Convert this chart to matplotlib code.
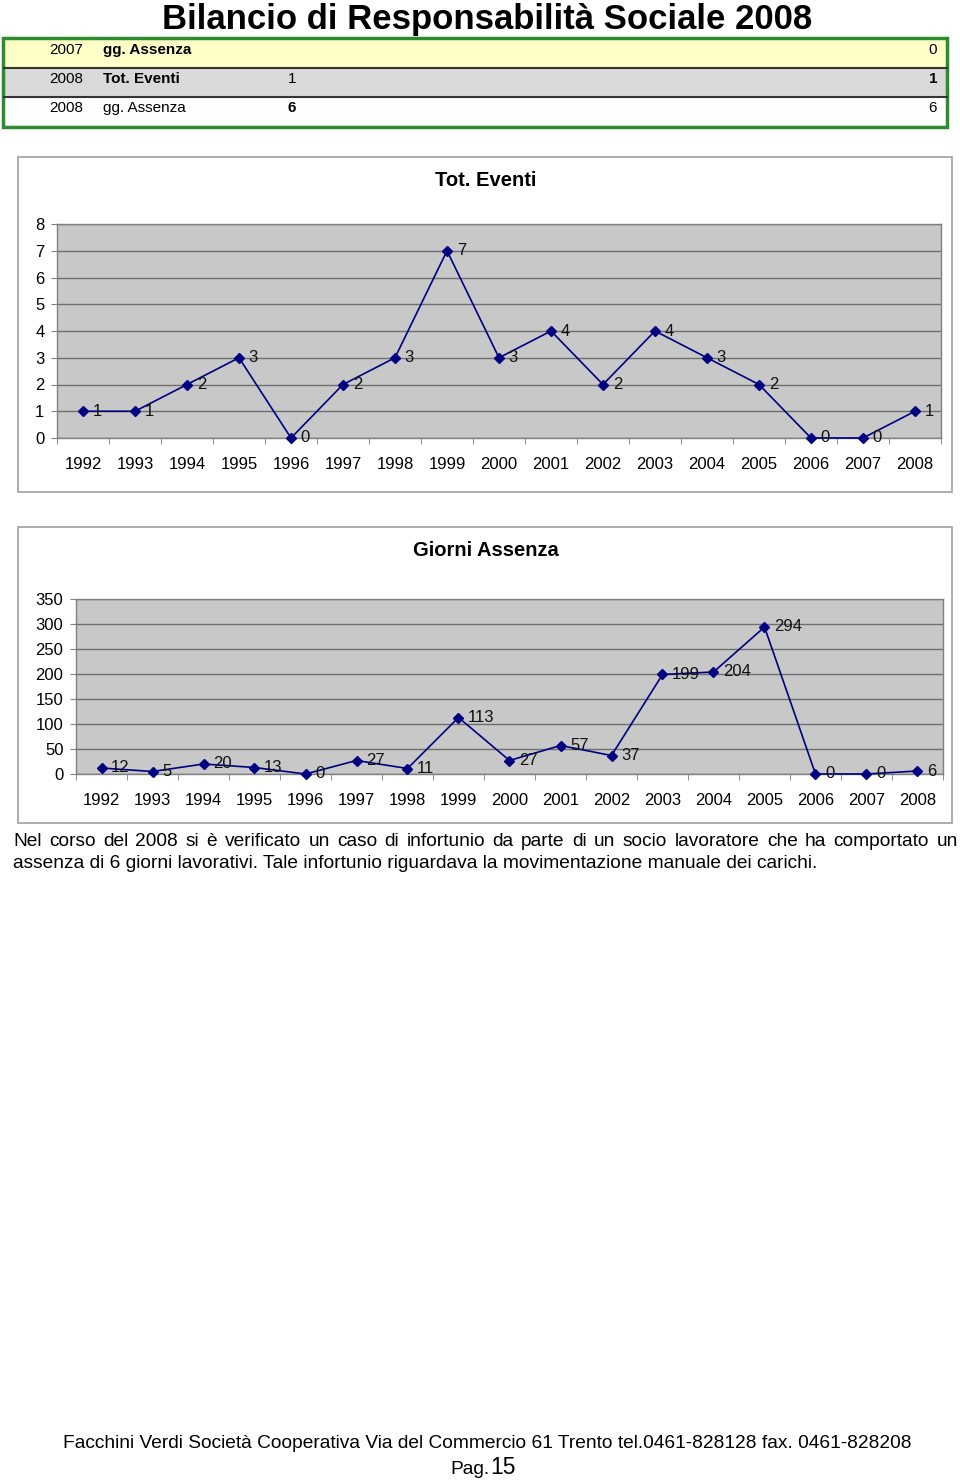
import matplotlib.pyplot as plt
from matplotlib.patches import Rectangle

plt.rcParams['font.family'] = ['Liberation Sans', 'DejaVu Sans']

# dati
anni = [str(a) for a in range(1992, 2009)]
tot_eventi = [1, 1, 2, 3, 0, 2, 3, 7, 3, 4, 2, 4, 3, 2, 0, 0, 1]
giorni_assenza = [12, 5, 20, 13, 0, 27, 11, 113, 27, 57, 37, 199, 204, 294, 0, 0, 6]

tab_anni = ['2007', '2008', '2008']
tab_voci = ['gg. Assenza', 'Tot. Eventi', 'gg. Assenza']
tab_voci_bold = [True, True, False]
tab_mezzo = ['', '1', '6']
tab_mezzo_bold = [False, False, True]
tab_fine = ['0', '1', '6']
tab_fine_bold = [False, True, False]
tab_colori = ['#FFFFC8', '#D9D9D9', '#FFFFFF']

riga1 = ('Nel corso del 2008 si è verificato un caso di infortunio da parte di un socio '
         'lavoratore che ha comportato un')
riga2 = ('assenza di 6 giorni lavorativi. Tale infortunio riguardava la movimentazione '
         'manuale dei carichi.')

W, H = 960, 1480
fig = plt.figure(figsize=(W / 100, H / 100), dpi=100)


def fx(px):
    return px / W


def fy(py):
    return 1 - py / H


def box(x0, y0, x1, y1, **kw):
    r = Rectangle((fx(x0), fy(y1)), fx(x1) - fx(x0), fy(y0) - fy(y1),
                  transform=fig.transFigure, zorder=-1, **kw)
    fig.patches.append(r)


# titolo pagina
fig.text(fx(487), fy(20), 'Bilancio di Responsabilità Sociale 2008',
         ha='center', va='center', fontsize=25, fontweight='bold')

# tabella in alto
row_top = [39, 68, 97]
row_h = 29
for i in range(3):
    y0 = row_top[i]
    box(4, y0, 947, y0 + row_h, facecolor=tab_colori[i], edgecolor='none')
    yc = y0 + 11
    fig.text(fx(83), fy(yc), tab_anni[i], ha='right', va='center', fontsize=11)
    fig.text(fx(103), fy(yc), tab_voci[i], ha='left', va='center', fontsize=11,
             fontweight='bold' if tab_voci_bold[i] else 'normal')
    fig.text(fx(296), fy(yc), tab_mezzo[i], ha='right', va='center', fontsize=11,
             fontweight='bold' if tab_mezzo_bold[i] else 'normal')
    fig.text(fx(937), fy(yc), tab_fine[i], ha='right', va='center', fontsize=11,
             fontweight='bold' if tab_fine_bold[i] else 'normal')
for yl in [68, 97]:
    fig.add_artist(plt.Line2D([fx(4), fx(947)], [fy(yl), fy(yl)],
                              transform=fig.transFigure, color='#333333', lw=1.5))
fig.add_artist(Rectangle((fx(3), fy(127)), fx(947) - fx(3), fy(38) - fy(127),
                         transform=fig.transFigure, facecolor='none',
                         edgecolor='#2E8B2E', lw=2.5))


def grafico(frame, area, titolo, valori, ymax, ystep):
    fx0, fy0, fx1, fy1 = frame
    box(fx0, fy0, fx1, fy1, facecolor='white', edgecolor='#A0A0A0', lw=1.2)
    fig.text(fx((fx0 + fx1) / 2 + 1), fy(fy0 + 24), titolo, ha='center', va='center',
             fontsize=14.5, fontweight='bold')
    x0, y0, x1, y1 = area
    ax = fig.add_axes([fx(x0), fy(y1), fx(x1) - fx(x0), fy(y0) - fy(y1)])
    ax.set_facecolor('#C8C8C8')
    pos = list(range(len(anni)))
    for t in range(0, ymax + 1, ystep):
        ax.axhline(t, color='#6E6E6E', lw=1, zorder=1)
    ax.plot(pos, valori, color='#000080', lw=1.2, marker='D', markersize=4.8,
            markerfacecolor='#000080', markeredgecolor='#000080', zorder=3,
            clip_on=False)
    for p, v in zip(pos, valori):
        ax.annotate(str(v), (p, v), xytext=(7, 0), textcoords='offset points',
                    ha='left', va='center', fontsize=12, color='#111111', zorder=4)
    ax.set_xlim(-0.5, len(anni) - 0.5)
    ax.set_ylim(0, ymax)
    ax.set_yticks(range(0, ymax + 1, ystep))
    ax.set_xticks(pos)
    ax.set_xticklabels(anni)
    ax.set_xticks([p - 0.5 for p in pos] + [len(anni) - 0.5], minor=True)
    ax.tick_params(axis='x', which='major', length=0, pad=14, labelsize=12)
    ax.tick_params(axis='x', which='minor', length=4, color='#808080', direction='out')
    ax.tick_params(axis='y', length=4, color='#808080', pad=5, labelsize=12)
    for s in ax.spines.values():
        s.set_color('#808080')
        s.set_linewidth(1)
    return ax


grafico((18, 157, 952, 492), (57, 224, 941, 438), 'Tot. Eventi', tot_eventi, 8, 1)
grafico((18, 527, 952, 823), (76, 599, 943, 774), 'Giorni Assenza', giorni_assenza, 350, 50)

# testo: prima riga giustificata
renderer = fig.canvas.get_renderer()
parole = riga1.split(' ')
oggetti = [fig.text(0, fy(842), p, ha='left', va='center', fontsize=13.8) for p in parole]
larghezze = [t.get_window_extent(renderer).width for t in oggetti]
spazio = (958 - 13 - sum(larghezze)) / (len(parole) - 1)
xc = 13
for t, w in zip(oggetti, larghezze):
    t.set_x(fx(xc))
    xc += w + spazio
fig.text(fx(13), fy(864), riga2, ha='left', va='center', fontsize=13.8)

# piè di pagina
fig.text(fx(487), fy(1443),
         'Facchini Verdi Società Cooperativa Via del Commercio 61 Trento tel.0461-828128 '
         'fax. 0461-828208', ha='center', va='center', fontsize=13.8)
fig.text(fx(490), fy(1474), 'Pag.', ha='right', va='baseline', fontsize=13.8)
fig.text(fx(490), fy(1474), '15', ha='left', va='baseline', fontsize=16.5)

fig.savefig('out.png', dpi=100)
